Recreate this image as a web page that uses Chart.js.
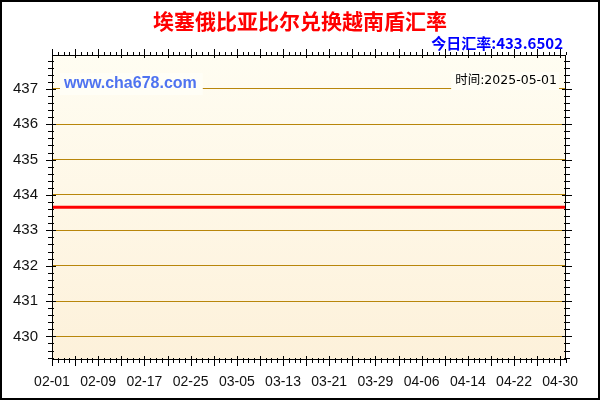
<!DOCTYPE html>
<html>
<head>
<meta charset="utf-8">
<script src="https://cdn.jsdelivr.net/npm/chart.js@4.4.1/dist/chart.umd.min.js"></script>
<style>
  html, body { margin: 0; padding: 0; background: #fff; }
  #wrap { width: 600px; height: 400px; position: relative; }
</style>
</head>
<body>
<div id="wrap"><canvas id="c" width="600" height="400"></canvas></div>
<script>
// 日付（02-01 ～ 05-01）
const dates = [
  "02-01","02-02","02-03","02-04","02-05","02-06","02-07","02-08","02-09","02-10",
  "02-11","02-12","02-13","02-14","02-15","02-16","02-17","02-18","02-19","02-20",
  "02-21","02-22","02-23","02-24","02-25","02-26","02-27","02-28",
  "03-01","03-02","03-03","03-04","03-05","03-06","03-07","03-08","03-09","03-10",
  "03-11","03-12","03-13","03-14","03-15","03-16","03-17","03-18","03-19","03-20",
  "03-21","03-22","03-23","03-24","03-25","03-26","03-27","03-28","03-29","03-30","03-31",
  "04-01","04-02","04-03","04-04","04-05","04-06","04-07","04-08","04-09","04-10",
  "04-11","04-12","04-13","04-14","04-15","04-16","04-17","04-18","04-19","04-20",
  "04-21","04-22","04-23","04-24","04-25","04-26","04-27","04-28","04-29","04-30",
  "05-01"
];

// 汇率（ほぼ横ばい）
const rates = [
  433.6502,433.6502,433.6502,433.6502,433.6502,433.6502,433.6502,433.6502,433.6502,433.6502,
  433.6502,433.6502,433.6502,433.6502,433.6502,433.6502,433.6502,433.6502,433.6502,433.6502,
  433.6502,433.6502,433.6502,433.6502,433.6502,433.6502,433.6502,433.6502,
  433.6502,433.6502,433.6502,433.6502,433.6502,433.6502,433.6502,433.6502,433.6502,433.6502,
  433.6502,433.6502,433.6502,433.6502,433.6502,433.6502,433.6502,433.6502,433.6502,433.6502,
  433.6502,433.6502,433.6502,433.6502,433.6502,433.6502,433.6502,433.6502,433.6502,433.6502,433.6502,
  433.6502,433.6502,433.6502,433.6502,433.6502,433.6502,433.6502,433.6502,433.6502,433.6502,
  433.6502,433.6502,433.6502,433.6502,433.6502,433.6502,433.6502,433.6502,433.6502,433.6502,
  433.6502,433.6502,433.6502,433.6502,433.6502,433.6502,433.6502,433.6502,433.6502,433.6502,
  433.6502
];

const xTickLabels = ["02-01","02-09","02-17","02-25","03-05","03-13","03-21","03-29","04-06","04-14","04-22","04-30"];
const yTicks = [430, 431, 432, 433, 434, 435, 436, 437];

const titleText = "埃塞俄比亚比尔兑换越南盾汇率";
const todayText = "今日汇率:433.6502";
const siteText = "www.cha678.com";
const timeText = "时间:2025-05-01";

// 背景・透かし・目盛り・タイトル
const bgPlugin = {
  id: "bgPlugin",
  beforeDraw(chart) {
    const { ctx, chartArea: a } = chart;
    ctx.save();
    ctx.fillStyle = "#fff";
    ctx.fillRect(0, 0, chart.width, chart.height);
    const g = ctx.createLinearGradient(0, a.top, 0, a.bottom);
    g.addColorStop(0, "#FFFDF2");
    g.addColorStop(1, "#FDF1DA");
    ctx.fillStyle = g;
    ctx.fillRect(a.left, a.top, a.right - a.left, a.bottom - a.top);
    ctx.restore();
  },
  beforeDatasetsDraw(chart) {
    const { ctx, chartArea: a } = chart;
    ctx.save();
    ctx.font = "bold 16px 'Liberation Sans', Arial, sans-serif";
    ctx.textBaseline = "middle";
    const sw = ctx.measureText(siteText).width;
    ctx.fillStyle = "#FFFEF6";
    ctx.fillRect(a.left + 8, a.top + 18, sw + 10, 22);
    ctx.fillStyle = "#4F73F0";
    ctx.textAlign = "left";
    ctx.fillText(siteText, a.left + 12, a.top + 29);

    ctx.font = "12.5px 'DejaVu Sans', 'Noto Sans CJK SC', sans-serif";
    const tw = ctx.measureText(timeText).width;
    ctx.fillStyle = "#FFFEF6";
    ctx.fillRect(a.right - 9 - tw - 4, a.top + 17, tw + 6, 18);
    ctx.fillStyle = "#000";
    ctx.textAlign = "right";
    ctx.fillText(timeText, a.right - 9, a.top + 26);
    ctx.restore();
  },
  afterDraw(chart) {
    const { ctx, chartArea: a, scales: { x, y } } = chart;
    ctx.save();
    ctx.strokeStyle = "#000";
    ctx.lineWidth = 1;
    ctx.strokeRect(a.left + 0.5, a.top + 0.5, a.right - a.left - 1, a.bottom - a.top);
    ctx.lineWidth = 2;
    ctx.strokeRect(1, 1, chart.width - 2, chart.height - 2);

    ctx.lineWidth = 1;
    ctx.beginPath();
    const start = Math.ceil(y.min * 5);
    const end = Math.floor(y.max * 5);
    for (let k = start; k <= end; k++) {
      const py = Math.round(y.getPixelForValue(k / 5)) + 0.5;
      const major = k % 5 === 0;
      ctx.moveTo(a.left - (major ? 6 : 4), py);
      ctx.lineTo(a.left + (major ? 4 : 2), py);
      ctx.moveTo(a.right - (major ? 4 : 2), py);
      ctx.lineTo(a.right + (major ? 6 : 4), py);
    }
    dates.forEach((d, i) => {
      const px = Math.round(x.getPixelForValue(i)) + 0.5;
      const major = i % 4 === 0;
      ctx.moveTo(px, a.bottom - (major ? 3 : 1));
      ctx.lineTo(px, a.bottom + (major ? 7 : 4));
      ctx.moveTo(px, a.top + (major ? 3 : 0));
      ctx.lineTo(px, a.top - (major ? 6 : 3));
    });
    ctx.stroke();

    ctx.textAlign = "center";
    ctx.textBaseline = "middle";
    ctx.fillStyle = "#FF0000";
    ctx.font = "bold 21px 'Noto Sans CJK SC', sans-serif";
    ctx.fillText(titleText, 300, 21);

    ctx.textAlign = "right";
    ctx.fillStyle = "#0000FF";
    ctx.font = "bold 15px 'Noto Sans CJK SC', sans-serif";
    ctx.fillText(todayText, 563, 43);
    ctx.restore();
  }
};

new Chart(document.getElementById("c"), {
  type: "line",
  data: {
    labels: dates,
    datasets: [{
      data: rates,
      borderColor: "#FF0000",
      borderWidth: 3,
      pointRadius: 0,
      fill: false,
      tension: 0
    }]
  },
  options: {
    responsive: false,
    animation: false,
    devicePixelRatio: 1,
    layout: { padding: { left: 0, top: 55, right: 34, bottom: 0 } },
    plugins: {
      legend: { display: false },
      tooltip: { enabled: false }
    },
    scales: {
      x: {
        type: "category",
        offset: false,
        grid: { display: false, drawTicks: false },
        border: { display: false },
        ticks: {
          autoSkip: false,
          maxRotation: 0,
          padding: 15,
          color: "#111",
          font: { family: "'Liberation Sans', Arial, sans-serif", size: 14 },
          callback(v, i) {
            const lab = dates[i];
            return xTickLabels.includes(lab) ? lab : "";
          }
        },
        afterFit(scale) { scale.height = 41; }
      },
      y: {
        min: 429.36,
        max: 437.96,
        grid: { color: "#B8860B", lineWidth: 1, drawTicks: false },
        border: { display: false },
        afterBuildTicks(scale) {
          scale.ticks = yTicks.map(v => ({ value: v }));
        },
        ticks: {
          padding: 14,
          color: "#111",
          font: { family: "'Liberation Sans', Arial, sans-serif", size: 15 }
        },
        afterFit(scale) { scale.width = 52; }
      }
    }
  },
  plugins: [bgPlugin]
});
</script>
</body>
</html>
